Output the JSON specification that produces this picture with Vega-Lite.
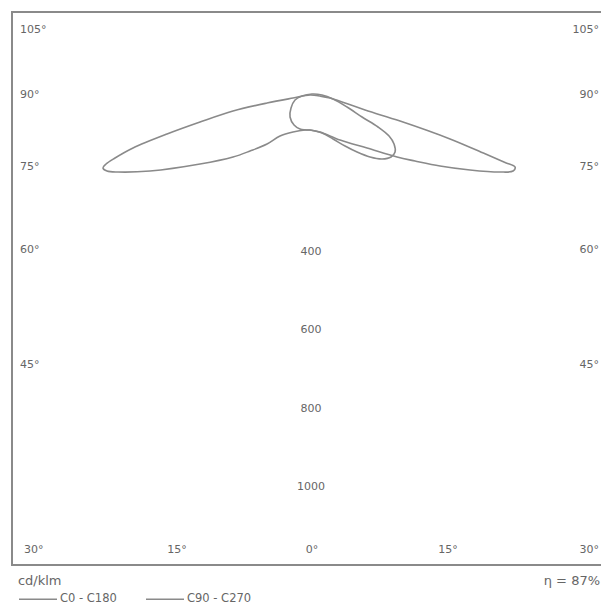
{
  "$schema": "https://vega.github.io/schema/vega-lite/v6.json",
  "width": 592,
  "height": 553,
  "autosize": "none",
  "padding": {"left": 12, "top": 12, "right": 0, "bottom": 42},
  "background": "white",
  "config": {
    "view": {"stroke": "#8a8a8a", "strokeWidth": 2},
    "font": "DejaVu Sans",
    "text": {"font": "DejaVu Sans", "color": "#666666"}
  },
  "datasets": {
    "curves": [
      {"curve": "C0 - C180", "i": 1, "x": 0, "y": -89.3},
      {"curve": "C0 - C180", "i": 2, "x": -12.8, "y": -89.3},
      {"curve": "C0 - C180", "i": 3, "x": -43.4, "y": -94.4},
      {"curve": "C0 - C180", "i": 4, "x": -76.5, "y": -104.6},
      {"curve": "C0 - C180", "i": 5, "x": -109.7, "y": -125},
      {"curve": "C0 - C180", "i": 6, "x": -153, "y": -142.8},
      {"curve": "C0 - C180", "i": 7, "x": -196.4, "y": -158.1},
      {"curve": "C0 - C180", "i": 8, "x": -280.5, "y": -176},
      {"curve": "C0 - C180", "i": 9, "x": -408, "y": -193.8},
      {"curve": "C0 - C180", "i": 10, "x": -489.6, "y": -196.4},
      {"curve": "C0 - C180", "i": 11, "x": -517.7, "y": -193.8},
      {"curve": "C0 - C180", "i": 12, "x": -527.9, "y": -186.2},
      {"curve": "C0 - C180", "i": 13, "x": -520.2, "y": -176},
      {"curve": "C0 - C180", "i": 14, "x": -497.3, "y": -160.7},
      {"curve": "C0 - C180", "i": 15, "x": -451.4, "y": -135.2},
      {"curve": "C0 - C180", "i": 16, "x": -364.7, "y": -99.5},
      {"curve": "C0 - C180", "i": 17, "x": -280.5, "y": -68.9},
      {"curve": "C0 - C180", "i": 18, "x": -196.4, "y": -40.8},
      {"curve": "C0 - C180", "i": 19, "x": -109.7, "y": -20.4},
      {"curve": "C0 - C180", "i": 20, "x": -43.4, "y": -7.7},
      {"curve": "C0 - C180", "i": 21, "x": 0, "y": 0},
      {"curve": "C0 - C180", "i": 22, "x": 25.5, "y": -2.6},
      {"curve": "C0 - C180", "i": 23, "x": 51, "y": -7.7},
      {"curve": "C0 - C180", "i": 24, "x": 140.3, "y": -38.3},
      {"curve": "C0 - C180", "i": 25, "x": 229.5, "y": -66.3},
      {"curve": "C0 - C180", "i": 26, "x": 357, "y": -112},
      {"curve": "C0 - C180", "i": 27, "x": 446.3, "y": -150},
      {"curve": "C0 - C180", "i": 28, "x": 497.3, "y": -172},
      {"curve": "C0 - C180", "i": 29, "x": 522.8, "y": -183.6},
      {"curve": "C0 - C180", "i": 30, "x": 517.7, "y": -193.8},
      {"curve": "C0 - C180", "i": 31, "x": 484.5, "y": -196.4},
      {"curve": "C0 - C180", "i": 32, "x": 408, "y": -191.3},
      {"curve": "C0 - C180", "i": 33, "x": 331.5, "y": -181.1},
      {"curve": "C0 - C180", "i": 34, "x": 267.8, "y": -168.3},
      {"curve": "C0 - C180", "i": 35, "x": 221.9, "y": -158.1},
      {"curve": "C0 - C180", "i": 36, "x": 145.4, "y": -135.2},
      {"curve": "C0 - C180", "i": 37, "x": 76.5, "y": -114.8},
      {"curve": "C0 - C180", "i": 38, "x": 25.5, "y": -94.4},
      {"curve": "C0 - C180", "i": 39, "x": 0, "y": -89.3},
      {"curve": "C90 - C270", "i": 1, "x": 0, "y": -89.3},
      {"curve": "C90 - C270", "i": 2, "x": -25.5, "y": -86.7},
      {"curve": "C90 - C270", "i": 3, "x": -40.8, "y": -76.5},
      {"curve": "C90 - C270", "i": 4, "x": -51, "y": -56.1},
      {"curve": "C90 - C270", "i": 5, "x": -48.5, "y": -33.2},
      {"curve": "C90 - C270", "i": 6, "x": -38.3, "y": -12.8},
      {"curve": "C90 - C270", "i": 7, "x": -20.4, "y": -2.6},
      {"curve": "C90 - C270", "i": 8, "x": 5.1, "y": 2.6},
      {"curve": "C90 - C270", "i": 9, "x": 30.6, "y": 0},
      {"curve": "C90 - C270", "i": 10, "x": 58.7, "y": -10.2},
      {"curve": "C90 - C270", "i": 11, "x": 94.4, "y": -30.6},
      {"curve": "C90 - C270", "i": 12, "x": 132.6, "y": -56.1},
      {"curve": "C90 - C270", "i": 13, "x": 173.4, "y": -81.6},
      {"curve": "C90 - C270", "i": 14, "x": 201.5, "y": -104.6},
      {"curve": "C90 - C270", "i": 15, "x": 214.2, "y": -125},
      {"curve": "C90 - C270", "i": 16, "x": 216.8, "y": -145.4},
      {"curve": "C90 - C270", "i": 17, "x": 206.6, "y": -158.1},
      {"curve": "C90 - C270", "i": 18, "x": 183.6, "y": -163.2},
      {"curve": "C90 - C270", "i": 19, "x": 153, "y": -158.1},
      {"curve": "C90 - C270", "i": 20, "x": 119.9, "y": -145.4},
      {"curve": "C90 - C270", "i": 21, "x": 89.3, "y": -130.1},
      {"curve": "C90 - C270", "i": 22, "x": 58.7, "y": -112.2},
      {"curve": "C90 - C270", "i": 23, "x": 30.6, "y": -96.9},
      {"curve": "C90 - C270", "i": 24, "x": 0, "y": -89.3}
    ],
    "leftLabels": [
      {"label": "105°", "x": -739.5, "y": 165.8},
      {"label": "90°", "x": -739.5, "y": 0},
      {"label": "75°", "x": -739.5, "y": -183.6},
      {"label": "60°", "x": -739.5, "y": -395.3},
      {"label": "45°", "x": -739.5, "y": -688.5},
      {"label": "30°", "x": -729.3, "y": -1160.3}
    ],
    "rightLabels": [
      {"label": "105°", "x": 737, "y": 165.8},
      {"label": "90°", "x": 737, "y": 0},
      {"label": "75°", "x": 737, "y": -183.6},
      {"label": "60°", "x": 737, "y": -395.3},
      {"label": "45°", "x": 737, "y": -688.5},
      {"label": "30°", "x": 737, "y": -1160.3}
    ],
    "centerLabels": [
      {"label": "15°", "x": -339.2, "y": -1160.3},
      {"label": "0°", "x": 5.1, "y": -1160.3},
      {"label": "15°", "x": 351.9, "y": -1160.3},
      {"label": "400", "x": 2.6, "y": -400},
      {"label": "600", "x": 2.6, "y": -600},
      {"label": "800", "x": 2.6, "y": -800},
      {"label": "1000", "x": 2.6, "y": -1000}
    ],
    "unitLabel": [{"label": "cd/klm", "x": -745, "y": -1240}],
    "etaLabel": [{"label": "η = 87%", "x": 739.5, "y": -1240}]
  },
  "layer": [
    {
      "data": {"name": "curves"},
      "mark": {"type": "line", "strokeWidth": 1.6, "clip": false, "interpolate": "catmull-rom"},
      "encoding": {
        "x": {"field": "x", "type": "quantitative", "scale": {"domain": [-760, 749.6], "nice": false, "zero": false}, "axis": null},
        "y": {"field": "y", "type": "quantitative", "scale": {"domain": [-1198.5, 211.7], "nice": false, "zero": false}, "axis": null},
        "order": {"field": "i", "type": "quantitative"},
        "color": {
          "field": "curve", "type": "nominal",
          "scale": {"domain": ["C0 - C180", "C90 - C270"], "range": ["#8a8a8a", "#8a8a8a"]},
          "legend": {
            "title": null, "orient": "none", "legendX": 6, "legendY": 567,
            "direction": "horizontal", "symbolType": "stroke", "symbolSize": 1444,
            "symbolStrokeWidth": 1.4, "labelFontSize": 11.5, "labelColor": "#666666",
            "labelFont": "DejaVu Sans", "labelOffset": 2, "columnPadding": 26, "padding": 0
          }
        }
      }
    },
    {
      "data": {"name": "leftLabels"},
      "mark": {"type": "text", "align": "left", "baseline": "middle", "fontSize": 11},
      "encoding": {
        "x": {"field": "x", "type": "quantitative"},
        "y": {"field": "y", "type": "quantitative"},
        "text": {"field": "label"}
      }
    },
    {
      "data": {"name": "rightLabels"},
      "mark": {"type": "text", "align": "right", "baseline": "middle", "fontSize": 11},
      "encoding": {
        "x": {"field": "x", "type": "quantitative"},
        "y": {"field": "y", "type": "quantitative"},
        "text": {"field": "label"}
      }
    },
    {
      "data": {"name": "centerLabels"},
      "mark": {"type": "text", "align": "center", "baseline": "middle", "fontSize": 11},
      "encoding": {
        "x": {"field": "x", "type": "quantitative"},
        "y": {"field": "y", "type": "quantitative"},
        "text": {"field": "label"}
      }
    },
    {
      "data": {"name": "unitLabel"},
      "mark": {"type": "text", "align": "left", "baseline": "middle", "fontSize": 13},
      "encoding": {
        "x": {"field": "x", "type": "quantitative"},
        "y": {"field": "y", "type": "quantitative"},
        "text": {"field": "label"}
      }
    },
    {
      "data": {"name": "etaLabel"},
      "mark": {"type": "text", "align": "right", "baseline": "middle", "fontSize": 13},
      "encoding": {
        "x": {"field": "x", "type": "quantitative"},
        "y": {"field": "y", "type": "quantitative"},
        "text": {"field": "label"}
      }
    }
  ]
}
